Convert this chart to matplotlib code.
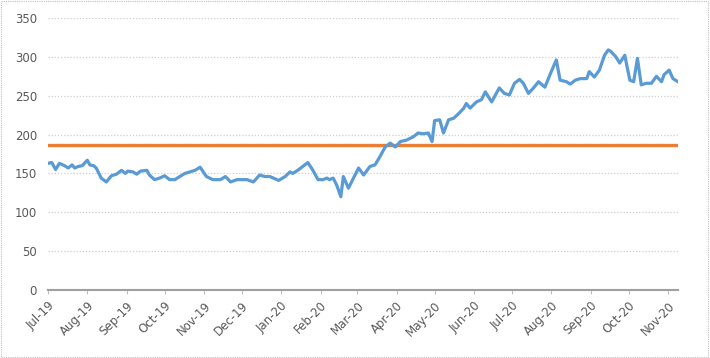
import numpy as np
import pandas as pd
import matplotlib
matplotlib.use("Agg")
import matplotlib.pyplot as plt
import matplotlib.dates as mdates
from matplotlib.patches import Rectangle

# jours depuis le 1er juillet 2019 et valeurs
days = [0, 3, 6, 9, 13, 16, 19, 21, 24, 27, 31, 33, 36, 38, 42, 46, 50, 54, 58, 61,
        63, 67, 70, 73, 78, 80, 84, 88, 92, 96, 100, 104, 108, 112, 116, 120, 125, 130,
        136, 140, 144, 149, 157, 162, 167, 171, 175, 182, 187, 191, 193, 197, 201, 205,
        209, 213, 217, 220, 222, 225, 228, 231, 233, 237, 241, 245, 249, 254, 258, 262,
        266, 270, 274, 278, 283, 288, 292, 296, 300, 303, 305, 309, 312, 316, 320, 324,
        328, 330, 333, 338, 342, 345, 350, 356, 360, 364, 368, 372, 375, 379, 383, 387,
        392, 397, 401, 404, 409, 412, 416, 420, 425, 427, 431, 435, 439, 442, 444, 448,
        451, 455, 459, 462, 465, 468, 472, 476, 480, 484, 486, 490, 493, 497]
values = [163, 164, 155, 163, 160, 157, 161, 157, 159, 160, 167, 161, 160, 157, 144, 139,
          147, 149, 154, 150, 153, 152, 149, 153, 154, 148, 142, 144, 147, 142, 142, 146,
          150, 152, 154, 158, 146, 142, 142, 146, 139, 142, 142, 139, 148, 146, 146, 141,
          146, 152, 150, 154, 159, 164, 154, 142, 142, 144, 142, 144, 134, 120, 146, 131,
          144, 157, 148, 159, 161, 172, 184, 189, 184, 191, 193, 197, 202, 201, 202, 191,
          218, 219, 202, 219, 221, 227, 234, 240, 234, 242, 245, 255, 242, 260, 253, 251,
          266, 271, 266, 253, 260, 268, 261, 281, 296, 270, 268, 265, 270, 272, 272, 281,
          274, 283, 302, 309, 307, 300, 292, 302, 270, 268, 298, 264, 266, 266, 275, 268,
          277, 283, 272, 268]
seuil = 187

start = pd.Timestamp("2019-07-01")
dates = start + pd.to_timedelta(days, unit="D")

fig = plt.figure(figsize=(7.10, 3.58), dpi=100)
ax = fig.add_axes([48 / 710, 1 - 290 / 358, 630 / 710, 272 / 358])

ax.plot(dates, values, color="#5B9BD5", lw=2.3, solid_joinstyle="round", zorder=3)
ax.plot([dates[0], dates[-1]], [seuil, seuil], color="#ED7D31", lw=2.4, zorder=2)

ax.set_xlim(dates[0], dates[-1])
ax.set_ylim(0, 350)
ax.set_yticks(np.arange(0, 351, 50))
ax.yaxis.grid(True, color="#cfcfcf", ls=(0, (1, 1.5)), lw=0.9)
ax.set_axisbelow(True)

months = pd.date_range("2019-07-01", "2020-11-01", freq="MS")
ax.set_xticks(months)
ax.xaxis.set_major_formatter(mdates.DateFormatter("%b-%y"))

for s in ["top", "right", "left"]:
    ax.spines[s].set_visible(False)
ax.spines["bottom"].set_color("#a0a0a0")
ax.spines["bottom"].set_linewidth(1.5)

ax.tick_params(axis="y", length=0, labelsize=8.5, labelcolor="#595959", pad=8)
ax.tick_params(axis="x", length=3, color="#bfbfbf", labelsize=8.5, labelcolor="#595959")
plt.setp(ax.get_xticklabels(), rotation=45, ha="right", rotation_mode="anchor")

# cadre pointillé autour du graphique
fig.patches.append(Rectangle((0.002, 0.003), 0.995, 0.994, transform=fig.transFigure,
                             fill=False, ec="#c0c0c0", ls=(0, (1, 1)), lw=0.8))

fig.savefig("out.png", dpi=100)
